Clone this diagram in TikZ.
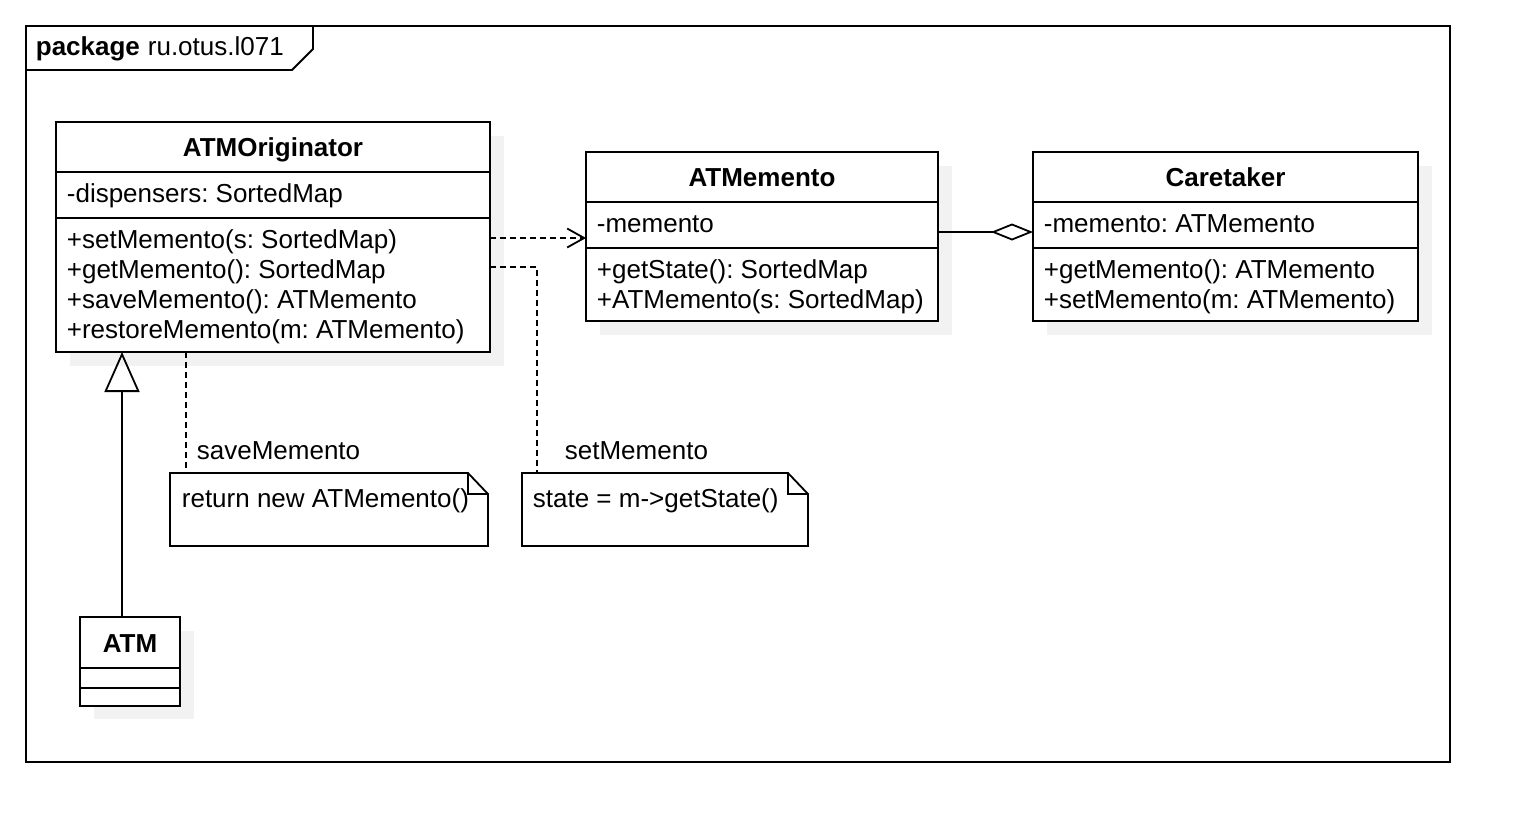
\documentclass[tikz,border=0pt]{standalone}
\usepackage{fontspec}
\setmainfont{Liberation Sans}
\usetikzlibrary{arrows.meta}
\definecolor{shadowc}{HTML}{F2F2F2}
\frenchspacing
\begin{document}
\begin{tikzpicture}[x=1pt,y=-1pt,line width=1.8pt,
  font=\fontsize{26}{30}\selectfont,
  box/.style={draw,line width=1.8pt,fill=white,inner sep=0pt,outer sep=0pt,anchor=north west},
  frame/.style={draw,line width=1.8pt,inner sep=0pt,outer sep=0pt,anchor=north west},
  notebox/.style={inner sep=0pt,outer sep=0pt,anchor=north west},
  shade/.style={fill=shadowc,draw=none},
  txt/.style={anchor=base west,inner sep=0pt},
  ttl/.style={anchor=base,inner sep=0pt,font=\fontsize{26}{30}\selectfont\bfseries},
  dep/.style={dash pattern=on 6pt off 4pt,-{Straight Barb[length=17pt,width=19pt]}},
  link/.style={dash pattern=on 6pt off 4pt},
  agg/.style={-{Diamond[open,length=42pt,width=17pt]}},
  gen/.style={-{Triangle[open,length=40pt,width=35pt]}}]
\useasboundingbox (0,0) rectangle (1524,836);
\fill[white] (0,0) rectangle (1524,836);

% package frame
\node[frame,minimum width=1424pt,minimum height=736pt] (pkg) at (26,26) {};
\draw (26,70) -- (292,70) -- (313,49) -- (313,26);
\node[txt,font=\fontsize{26}{30}\selectfont\bfseries] (pkgkw) at (35,55) {package};
\node[txt] (pkgname) at (147,55) {ru.otus.l071};

% shadows
\fill[shade] (70,136) rectangle (504,366);
\fill[shade] (600,166) rectangle (952,335);
\fill[shade] (1047,166) rectangle (1432,335);
\fill[shade] (94,631) rectangle (194,719);

% ATMOriginator
\node[box,minimum width=434pt,minimum height=230pt] (orig) at (56,122) {};
\draw (orig.west |- 0,172) -- (orig.east |- 0,172);
\draw (orig.west |- 0,218) -- (orig.east |- 0,218);
\node[ttl] (origT) at (273,156) {ATMOriginator};
\node[txt] (origA) at (66,202) {-dispensers: SortedMap};
\node[txt] (origM1) at (66,248) {+setMemento(s: SortedMap)};
\node[txt] (origM2) at (66,278) {+getMemento(): SortedMap};
\node[txt] (origM3) at (66,308) {+saveMemento(): ATMemento};
\node[txt] (origM4) at (66,338) {+restoreMemento(m: ATMemento)};

% ATMemento
\node[box,minimum width=352pt,minimum height=169pt] (mem) at (586,152) {};
\draw (mem.west |- 0,202) -- (mem.east |- 0,202);
\draw (mem.west |- 0,248) -- (mem.east |- 0,248);
\node[ttl] (memT) at (762,186) {ATMemento};
\node[txt] (memA) at (596,232) {-memento};
\node[txt] (memM1) at (596,278) {+getState(): SortedMap};
\node[txt] (memM2) at (596,308) {+ATMemento(s: SortedMap)};

% Caretaker
\node[box,minimum width=385pt,minimum height=169pt] (care) at (1033,152) {};
\draw (care.west |- 0,202) -- (care.east |- 0,202);
\draw (care.west |- 0,248) -- (care.east |- 0,248);
\node[ttl] (careT) at (1225.5,186) {Caretaker};
\node[txt] (careA) at (1043,232) {-memento: ATMemento};
\node[txt] (careM1) at (1043,278) {+getMemento(): ATMemento};
\node[txt] (careM2) at (1043,308) {+setMemento(m: ATMemento)};

% ATM
\node[box,minimum width=100pt,minimum height=89pt] (atm) at (80,617) {};
\draw (atm.west |- 0,668) -- (atm.east |- 0,668);
\draw (atm.west |- 0,688) -- (atm.east |- 0,688);
\node[ttl] (atmT) at (130,652) {ATM};

% notes
\node[notebox,minimum width=318pt,minimum height=73pt] (note1) at (170,473) {};
\draw (note1.north west) -- ([xshift=-20pt]note1.north east) -- ([yshift=-21pt]note1.north east)
  -- (note1.south east) -- (note1.south west) -- cycle;
\draw ([xshift=-20pt]note1.north east) |- ([yshift=-21pt]note1.north east);
\node[txt] (note1T) at (181,507) {return new ATMemento()};

\node[notebox,minimum width=286pt,minimum height=73pt] (note2) at (522,473) {};
\draw (note2.north west) -- ([xshift=-20pt]note2.north east) -- ([yshift=-21pt]note2.north east)
  -- (note2.south east) -- (note2.south west) -- cycle;
\draw ([xshift=-20pt]note2.north east) |- ([yshift=-21pt]note2.north east);
\node[txt] (note2T) at (532,507) {state = m->getState()};

% labels
\node[txt] (lab1) at (196,459) {saveMemento};
\node[txt] (lab2) at (564,459) {setMemento};

% connectors
\draw[dep] ([yshift=-116pt]orig.north east) -- ([yshift=-86pt]mem.north west);
\draw[agg] ([yshift=-80pt]mem.north east) -- ([yshift=-80pt]care.north west);
\draw[gen] ([xshift=-8pt]atm.north) -- ([xshift=-8pt]atm.north |- orig.south);
\draw[link] ([xshift=16pt]note1.north west |- orig.south) -- ([xshift=16pt]note1.north west);
\draw[link] ([yshift=-145pt]orig.north east) -| ([xshift=15pt]note2.north west);
\end{tikzpicture}
\end{document}
